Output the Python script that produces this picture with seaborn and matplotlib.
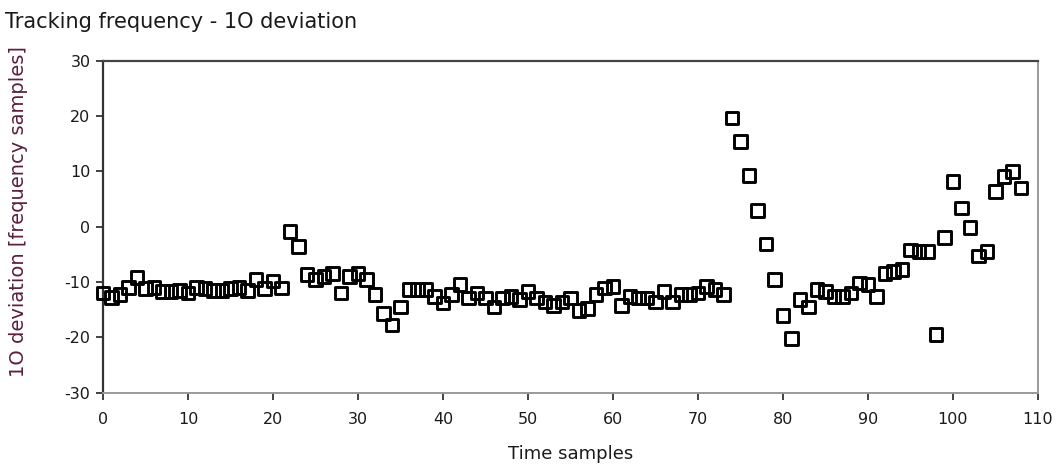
import numpy as np
import pandas as pd
import matplotlib
matplotlib.use("Agg")
import matplotlib.pyplot as plt
import seaborn as sns

# Deviation of the tracked frequency, one value per time sample
time_samples = list(range(109))
deviation = [
    -12.0, -12.8, -12.3, -11.0, -9.2, -11.2, -11.0, -11.7, -11.7, -11.5,
    -12.0, -11.0, -11.2, -11.5, -11.5, -11.2, -11.0, -11.5, -9.5, -11.2,
    -9.8, -11.1, -0.8, -3.6, -8.7, -9.6, -9.0, -8.4, -12.0, -9.0,
    -8.4, -9.6, -12.3, -15.7, -17.8, -14.5, -11.4, -11.4, -11.4, -12.6,
    -13.8, -12.3, -10.5, -12.9, -12.0, -12.9, -14.5, -12.9, -12.6, -13.2,
    -11.7, -12.9, -13.6, -14.2, -13.6, -12.9, -15.1, -14.8, -12.3, -11.1,
    -10.8, -14.2, -12.6, -12.9, -12.9, -13.6, -11.7, -13.6, -12.3, -12.3,
    -12.0, -10.8, -11.4, -12.3, 19.7, 15.4, 9.3, 3.0, -3.1, -9.6,
    -16.0, -20.2, -13.2, -14.5, -11.4, -11.7, -12.6, -12.6, -12.0, -10.2,
    -10.5, -12.6, -8.4, -8.1, -7.8, -4.2, -4.5, -4.5, -19.5, -1.9,
    8.2, 3.4, -0.2, -5.3, -4.5, 6.4, 9.1, 10.0, 7.0,
]

x_ticks = list(range(0, 111, 10))
y_ticks = list(range(-30, 31, 10))

df = pd.DataFrame({"t": time_samples, "dev": deviation})

sns.set_theme(style="white")
plt.rcParams["font.family"] = ["DejaVu Sans"]

W, H = 1057, 472
fig = plt.figure(figsize=(W / 100, H / 100), dpi=100)
ax = fig.add_axes([0.0974, 0.1684, 0.8846, 0.7024])

sns.scatterplot(
    data=df, x="t", y="dev", ax=ax,
    marker="s", s=84, facecolors="none", edgecolor="black",
    linewidth=2.1, legend=False, zorder=3, clip_on=False,
)

ax.set_xlim(0, 110)
ax.set_ylim(-30, 30)
ax.set_xticks(x_ticks)
ax.set_yticks(y_ticks)

ax.set_xticklabels([str(v) for v in x_ticks], fontsize=11.5)
ax.set_yticklabels([str(v) for v in y_ticks], fontsize=11.5)
ax.tick_params(axis="both", which="major", direction="out", length=5,
               width=1.2, color="#222222", labelcolor="#1a1a1a",
               left=True, bottom=True)
ax.tick_params(axis="x", pad=9)
ax.tick_params(axis="y", pad=4)

for side, col, lw in [("left", "#333333", 1.6), ("top", "#444444", 1.6),
                      ("right", "#999999", 1.4), ("bottom", "#999999", 1.4)]:
    ax.spines[side].set_visible(True)
    ax.spines[side].set_color(col)
    ax.spines[side].set_linewidth(lw)

ax.set_xlabel("Time samples", fontsize=13, color="#1a1a1a", labelpad=13)
ax.set_ylabel("")

# Vertical axis caption placed near the left edge of the figure
fig.text(19 / W, 1 - 212 / H, "1O deviation [frequency samples]",
         fontsize=14, color="#5a1f3c", rotation=90,
         ha="center", va="center")

fig.text(0.005, 0.975, "Tracking frequency - 1O deviation", fontsize=15,
         color="#1a1a1a", ha="left", va="top")

fig.savefig("out.png", dpi=100, facecolor="white")
